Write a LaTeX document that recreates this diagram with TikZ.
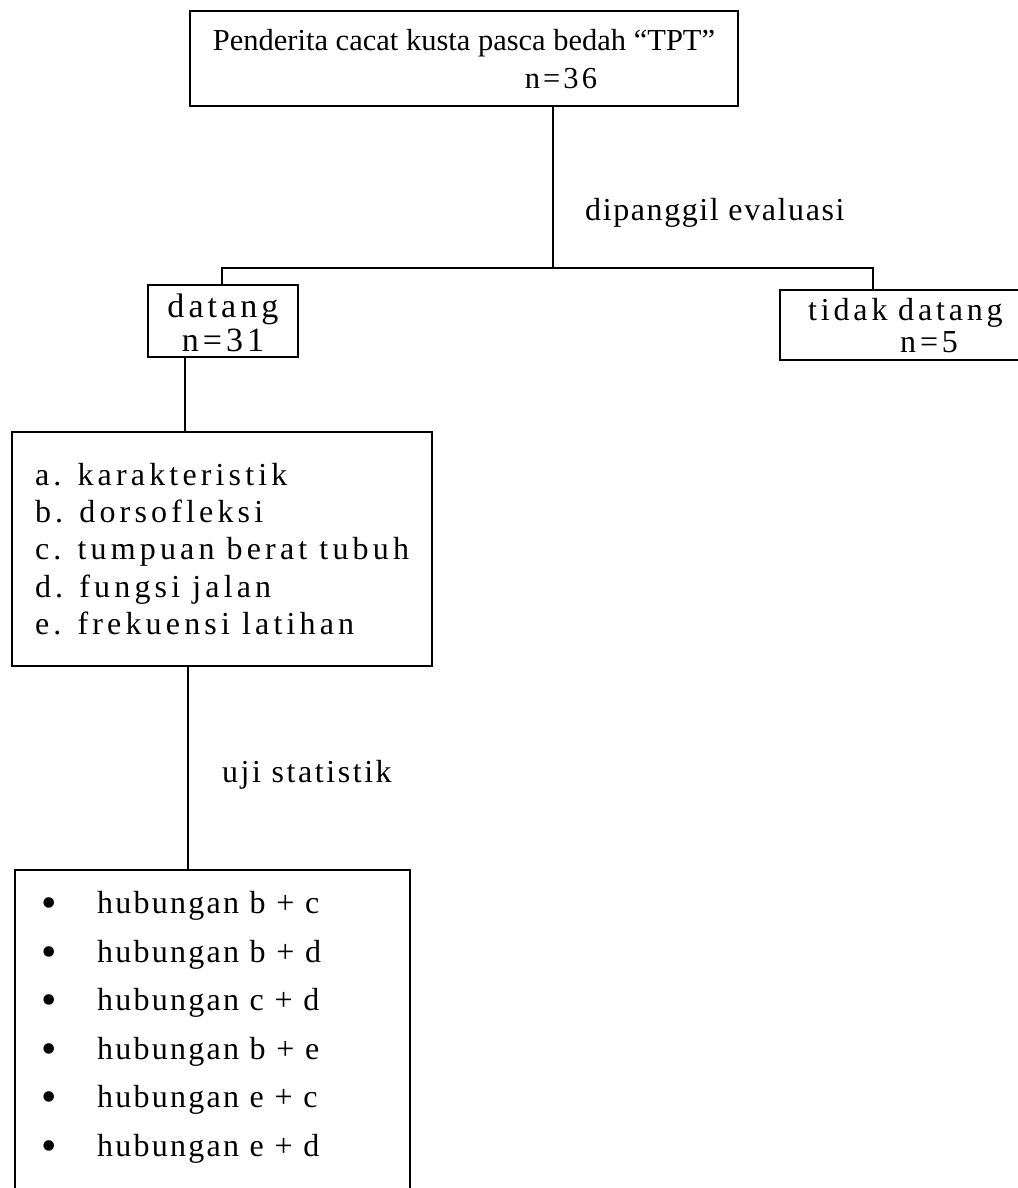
\documentclass[tikz,border=0pt]{standalone}
\usepackage{fontspec}
\setmainfont{Liberation Serif}
\usetikzlibrary{positioning, calc}

\newcommand{\hub}[1]{%
  \makebox[56pt][l]{\fontsize{44}{0}\selectfont\raisebox{-4pt}{\textbullet}}%
  hubungan #1}

\begin{document}
\begin{tikzpicture}[
    x=1pt, y=-1pt,
    txt/.style n args={3}{font=\fontsize{#1}{#3}\selectfont\addfontfeature{LetterSpace=#2}},
    box/.style={rectangle, draw, line width=2pt, inner sep=0pt},
    openbox/.style={rectangle, inner sep=0pt},
    link/.style={line width=2pt},
    note/.style={anchor=base west, inner sep=0pt},
  ]
  \useasboundingbox (0,0) rectangle (1017,1188);

    % Penderita
    \node[box, txt={30.5}{0}{38}, align=left, minimum width=548pt,
          minimum height=95pt] (top) at (464,59)
      {Penderita cacat kusta pasca bedah “TPT”\\%
       \hspace*{312pt}{\addfontfeature{LetterSpace=10}n=36}};
    \node[note, txt={32}{5}{38}] (call) at (585,220) {dipanggil evaluasi};

    % datang / tidak datang
    \node[box, txt={34}{12}{34}, align=center, minimum width=150pt,
          minimum height=72pt] (came) at (223,321)
      {\rule{0pt}{27pt}datang\\n=31};
    \node[openbox, txt={32}{12}{32}, align=left, anchor=north west,
          text width=220pt, inner xsep=28pt, minimum height=70pt] (absent)
          at (780,290) {tidak datang\\\hspace*{92pt}n=5};
    \draw[link] (absent.north east) -- (absent.north west)
      -- (absent.south west) -- (absent.south east);

    % variabel
    \node[box, txt={32}{13}{37.3}, align=left, minimum width=420pt,
          minimum height=234pt] (items) at (222,549)
      {a. karakteristik\\b. dorsofleksi\\c. tumpuan berat tubuh\\%
       d. fungsi jalan\\e. frekuensi latihan};
    \node[note, txt={32}{8}{38}] (stat) at (222,782) {uji statistik};

    % hubungan
    \node[openbox, txt={32}{7}{48.6}, align=left, anchor=north west,
          text width=343pt, inner xsep=26pt, inner ysep=21pt] (tests)
          at (15,870)
      {\hub{b + c}\\\hub{b + d}\\\hub{c + d}\\%
       \hub{b + e}\\\hub{e + c}\\\hub{e + d}};
    \draw[link] ([yshift=-10pt]tests.south west) -- (tests.north west)
      -- (tests.north east) -- ([yshift=-10pt]tests.south east);

    % connectors
    \coordinate (forkL) at (222,268);
    \coordinate (forkM) at (553,268);
    \coordinate (forkR) at (873,268);
    \draw[link] (top.south -| forkM) -- (forkM);
    \draw[link] (forkL |- came.north) -- (forkL) -- (forkR)
      -- (forkR |- absent.north);
    \draw[link] ([xshift=-38pt]came.south)
      -- ([xshift=-38pt]came.south |- items.north);
    \draw[link] ([xshift=-34pt]items.south)
      -- ([xshift=-34pt]items.south |- tests.north);
\end{tikzpicture}
\end{document}
